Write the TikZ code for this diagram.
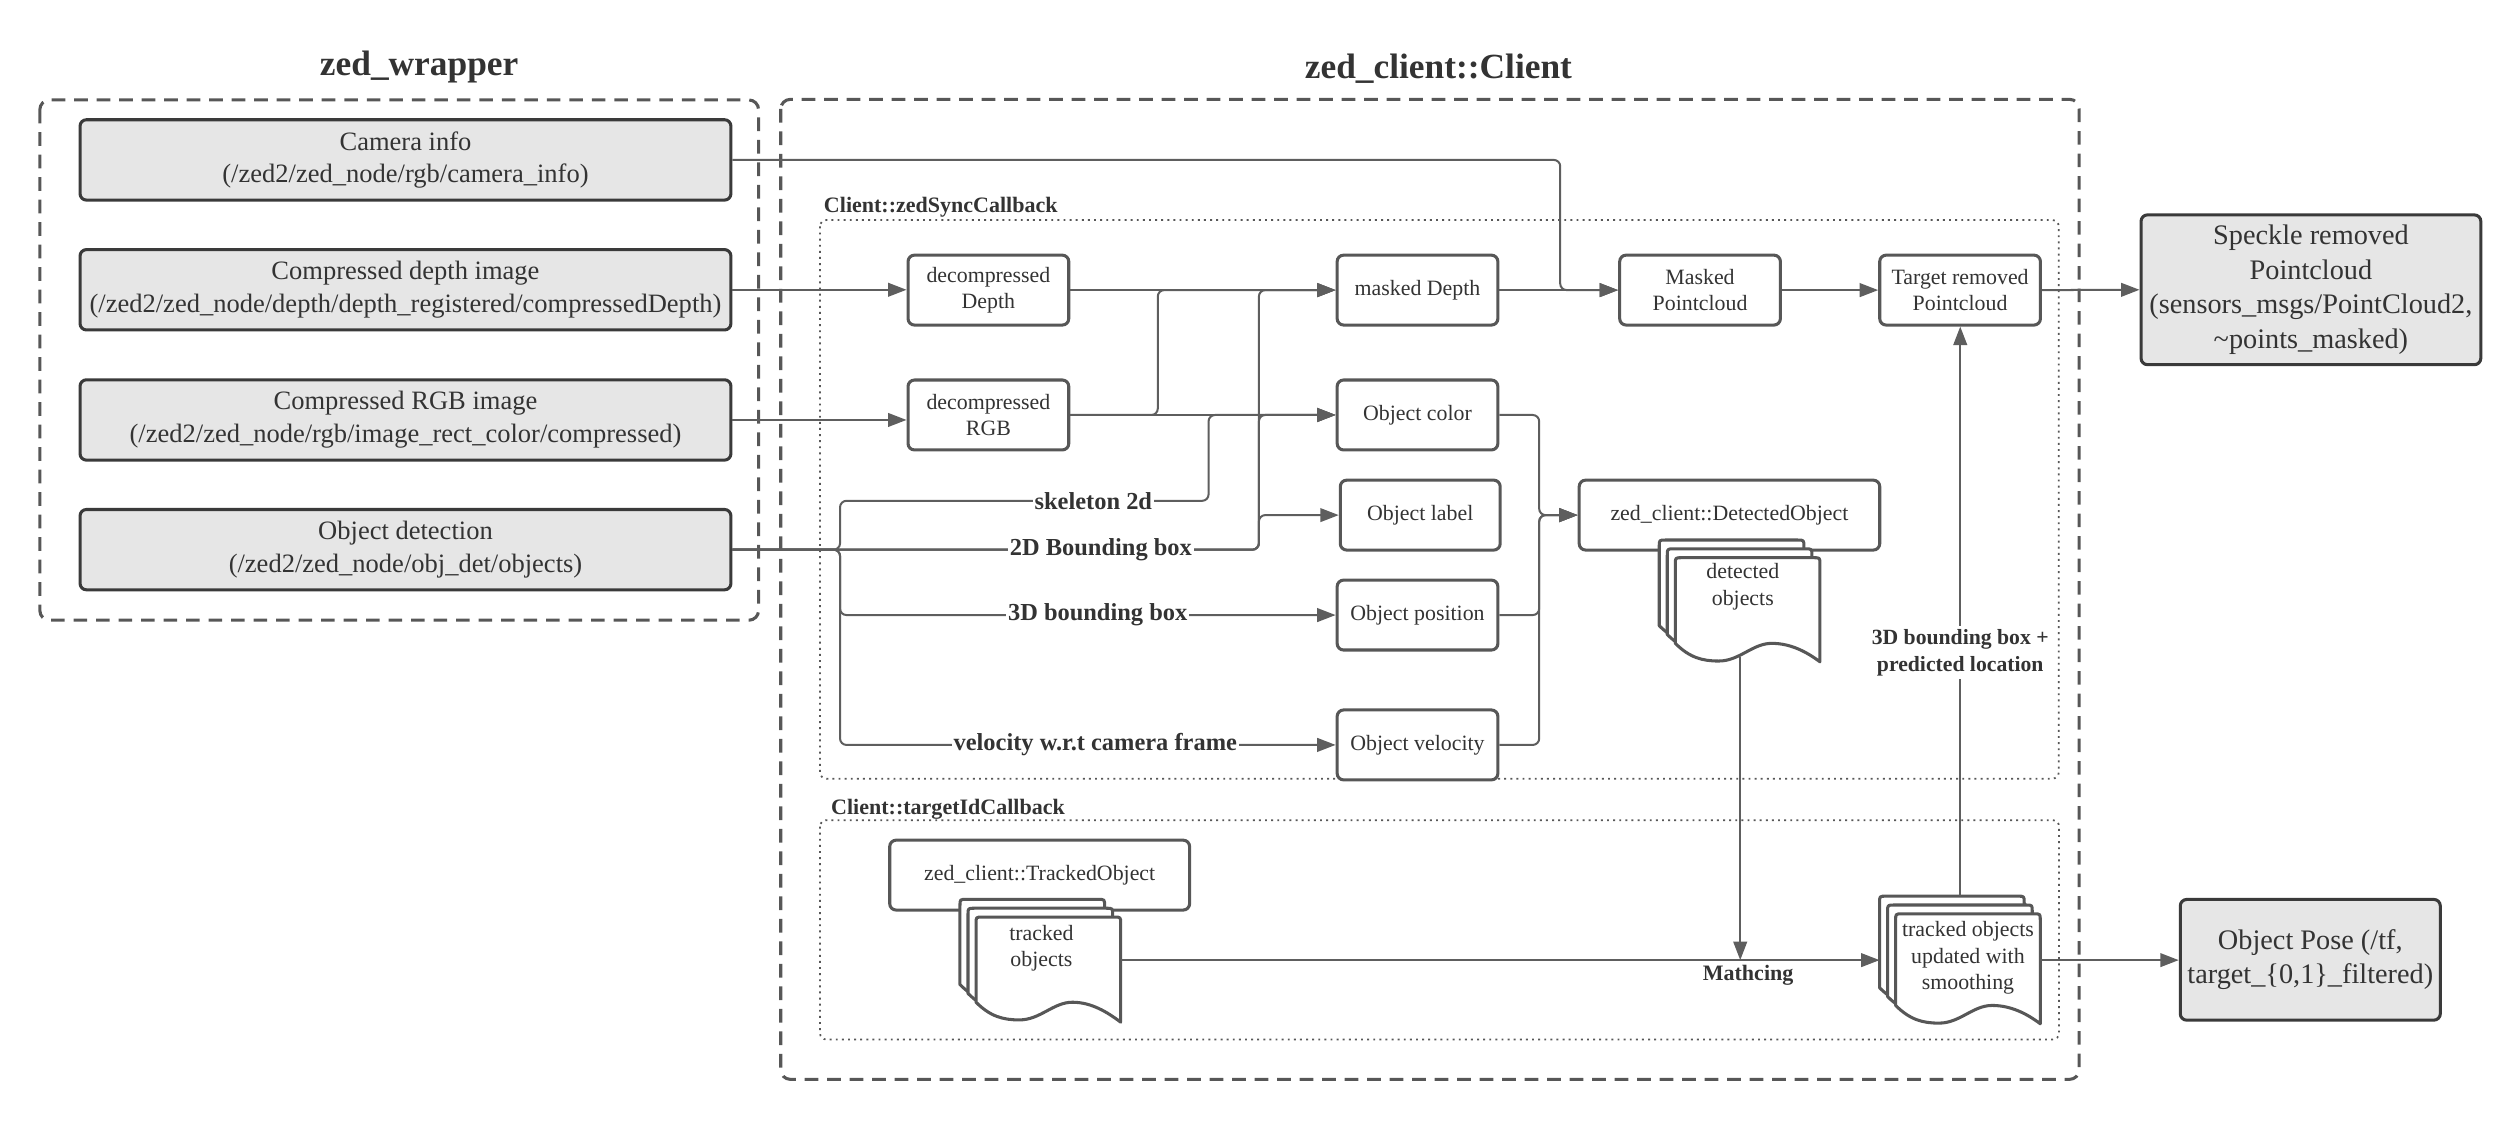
\documentclass[tikz,border=0pt]{standalone}
\usepackage{fontspec}
\setmainfont{Liberation Serif}
\usetikzlibrary{arrows.meta}
\definecolor{linec}{HTML}{5E5E5E}
\definecolor{boxc}{HTML}{575757}
\definecolor{darkc}{HTML}{3A3A3A}
\definecolor{fillg}{HTML}{E6E6E6}
\definecolor{txtc}{HTML}{333333}
\newcommand{\zonedoc}[4]{%
 \begin{scope}[shift={(#1,#2)}]
 \filldraw[docst] (0,#3) -- (0,4) .. controls (0,0) .. (4,0) -- (86,0) .. controls (90,0) .. (90,4) -- (90,#4) .. controls (82,#4-6) and (72,#3) .. (60,#3) .. controls (48,#3) and (40,#3+11) .. (27,#3+11) .. controls (17,#3+11) and (9,#3+9) .. (0,#3) -- cycle;
 \end{scope}}
\newcommand{\zdocstack}[4]{\zonedoc{#1}{#2}{#3}{#4}\zonedoc{#1+5}{#2+5.5}{#3}{#4}\zonedoc{#1+10}{#2+11}{#3}{#4}}
\begin{document}
\begin{tikzpicture}[x=1pt,y=-1pt,
 conn/.style={draw=linec, line width=1.25pt, rounded corners=4pt},
 arr/.style={conn, -{Triangle[length=11.5pt,width=8.5pt]}},
 inbox/.style={draw=darkc, fill=fillg, line width=1.9pt, rounded corners=4pt, minimum width=405pt, minimum height=50pt, inner sep=0pt, align=center, text=txtc, font=\fontsize{16.5}{20.3}\selectfont},
 outbox/.style={draw=darkc, fill=fillg, line width=1.9pt, rounded corners=4pt, inner sep=0pt, align=center, text=txtc, font=\fontsize{17.6}{21.4}\selectfont},
 sbox/.style={draw=boxc, fill=white, line width=1.9pt, rounded corners=4pt, minimum width=100pt, minimum height=43.5pt, inner sep=0pt, align=center, text=txtc, font=\fontsize{13.6}{16}\selectfont},
 docst/.style={draw=boxc, fill=white, line width=1.9pt, line join=round},
 doctext/.style={align=center, text=txtc, font=\fontsize{13.6}{16.5}\selectfont, inner sep=0pt},
 lbl/.style={fill=white, inner sep=1.2pt, text=txtc, font=\fontsize{15.2}{17}\selectfont\bfseries},
 title/.style={text=txtc, font=\fontsize{22}{26}\selectfont\bfseries},
 cblabel/.style={text=txtc, font=\fontsize{13.7}{16}\selectfont\bfseries, anchor=west, inner sep=0pt},
 dashbox/.style={draw=boxc, line width=1.9pt, dash pattern=on 8.5pt off 5.5pt, rounded corners=6pt},
 dotbox/.style={draw=boxc, line width=1.1pt, dash pattern=on 1.2pt off 2.6pt, rounded corners=4pt}
]
\useasboundingbox (0,0) rectangle (1568,697);
% containers
\draw[dashbox] (24.8,62.2) rectangle (472,385.9);
\draw[dashbox] (485.8,61.8) rectangle (1293.7,671.6);
\draw[dotbox] (510.2,136.9) rectangle (1281,484.5);
\draw[dotbox] (510.2,510.3) rectangle (1281.2,646.8);
\node[title] (t1) at (260.8,41.9) {zed\_wrapper};
\node[title] (t2) at (895,42.5) {zed\_client::Client};
\node[cblabel] (cb1) at (512.5,129.2) {Client::zedSyncCallback};
\node[cblabel] (cb2) at (517,503.5) {Client::targetIdCallback};
% input boxes
\node[inbox] (cam) at (252.3,99.5) {Camera info\\(/zed2/zed\_node/rgb/camera\_info)};
\node[inbox] (cdepth) at (252.3,180.3) {Compressed depth image\\(/zed2/zed\_node/depth/depth\_registered/compressedDepth)};
\node[inbox] (crgb) at (252.3,261.3) {Compressed RGB image\\(/zed2/zed\_node/rgb/image\_rect\_color/compressed)};
\node[inbox] (od) at (252.3,342) {Object detection\\(/zed2/zed\_node/obj\_det/objects)};
% inner nodes
\node[sbox] (ddepth) at (615,180.5) {decompressed\\Depth};
\node[sbox] (drgb) at (615,258.2) {decompressed\\RGB};
\node[sbox] (mdepth) at (882,180.5) {masked Depth};
\node[sbox] (ocolor) at (882,258.2) {Object color};
\node[sbox, minimum width=99.5pt] (olabel) at (883.7,320.5) {Object label};
\node[sbox] (opos) at (882,382.7) {Object position};
\node[sbox] (ovel) at (882,463.5) {Object velocity};
\node[sbox] (mpc) at (1057.8,180.5) {Masked\\Pointcloud};
\node[sbox] (trpc) at (1219.6,180.5) {Target removed\\Pointcloud};
\node[sbox, minimum width=187pt] (detobj) at (1076.1,320.5) {zed\_client::DetectedObject};
\node[sbox, minimum width=186.6pt] (trkobj) at (646.9,544.5) {zed\_client::TrackedObject};
\node[outbox, minimum width=211.4pt, minimum height=93.2pt] (speckle) at (1437.9,180.3) {Speckle removed\\Pointcloud\\(sensors\_msgs/PointCloud2,\\\textasciitilde points\_masked)};
\node[outbox, minimum width=161.8pt, minimum height=75.1pt] (pose) at (1437.5,597.2) {Object Pose (/tf,\\target\_\{0,1\}\_filtered)};
% document stacks
\zdocstack{1032.4}{336}{53.3}{64.8}
\zdocstack{597.3}{559.6}{53}{65.4}
\zdocstack{1169.5}{557.6}{57}{68.4}
\node[doctext] (detdoc) at (1084.4,365) {detected\\objects};
\node[doctext] (trkdoc) at (648,590) {tracked\\objects};
\node[doctext] (upddoc) at (1224.5,596) {tracked objects\\updated with\\smoothing};
% named points
\coordinate (vcam) at (970.8,180.5);
\coordinate (vrg) at (720.4,180.5);
\coordinate (bsk) at (522.7,311.6);
\coordinate (vsk) at (752,258.2);
\coordinate (vbb) at (783.3,180.5);
\coordinate (vbbc) at (783.3,258.2);
\coordinate (vbbl) at (783.3,320.5);
\coordinate (b3d) at (522.7,382.7);
\coordinate (bvel) at (522.7,463.5);
\coordinate (busm) at (957.7,320.5);
\coordinate (detbot) at (1082.8,409);
\coordinate (trkeast) at (697.2,597.4);
\coordinate (updwest) at (1169.5,597.4);
\coordinate (updtop) at (1219.7,557.6);
\coordinate (updeast) at (1269.2,597.4);
% connectors
\draw[arr] (cam.east) -| (vcam) -- (mpc.west);
\draw[arr] (cdepth.east) -- (cdepth.east -| ddepth.west);
\draw[arr] (crgb.east) -- (crgb.east -| drgb.west);
\draw[arr] (ddepth.east) -- (mdepth.west);
\draw[arr] (drgb.east) -| (vrg) -- (mdepth.west);
\draw[arr] (drgb.east) -- (ocolor.west);
\draw[arr] (od.east) -| (bsk) -| (vsk) -- (ocolor.west);
\draw[arr] (od.east) -| (vbb) -- (mdepth.west);
\draw[arr] (od.east) -| (vbbc) -- (ocolor.west);
\draw[arr] (od.east) -| (vbbl) -- (olabel.west);
\draw[arr] (od.east) -| (b3d) -- (opos.west);
\draw[arr] (od.east) -| (bvel) -- (ovel.west);
\draw[arr] (ocolor.east) -| (busm) -- (detobj.west);
\draw[arr] (opos.east) -| (busm) -- (detobj.west);
\draw[arr] (ovel.east) -| (busm) -- (detobj.west);
\draw[arr] (mdepth.east) -- (mpc.west);
\draw[arr] (mpc.east) -- (trpc.west);
\draw[arr] (trpc.east) -- (speckle.west);
\draw[arr] (detbot) -- (detbot |- trkeast);
\draw[arr] (trkeast) -- (updwest);
\draw[arr] (updtop) -- (updtop |- trpc.south);
\draw[arr] (updeast) -- (updeast -| pose.west);
% connector labels
\node[lbl] (lsk) at (680.3,311.6) {skeleton 2d};
\node[lbl] (l2d) at (685,342) {2D Bounding box};
\node[lbl] (l3d) at (683,382.7) {3D bounding box};
\node[lbl] (lvel) at (681.5,463.5) {velocity w.r.t camera frame};
\node[lbl, font=\fontsize{13.5}{17}\selectfont\bfseries, align=center, inner sep=2pt] (lpred) at (1219.7,406) {3D bounding box +\\predicted location};
\node[text=txtc, font=\fontsize{13.7}{16}\selectfont\bfseries, inner sep=0pt] (lmatch) at (1087.7,606.7) {Mathcing};
\end{tikzpicture}
\end{document}
